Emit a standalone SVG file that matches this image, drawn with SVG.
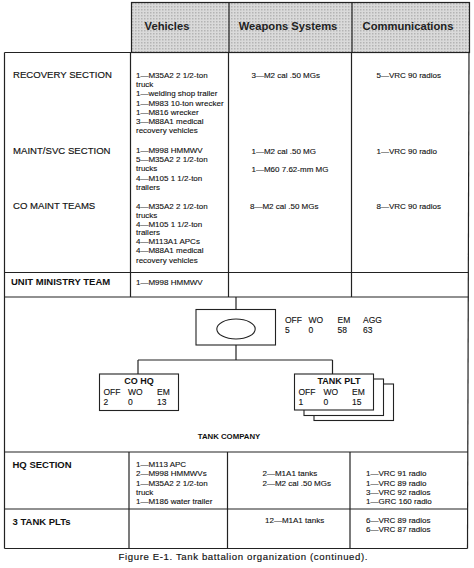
<svg xmlns="http://www.w3.org/2000/svg" width="474" height="568" viewBox="0 0 474 568">
<defs>
<pattern id="dots" width="3" height="3" patternUnits="userSpaceOnUse">
<rect width="3" height="3" fill="#dadada"/>
<rect x="0" y="0" width="1.5" height="1.5" fill="#b4b4b4"/>
</pattern>
<style>
text{font-family:"Liberation Sans",Arial,sans-serif;fill:#111}
.hd{font-size:11.2px;font-weight:bold;text-anchor:middle;fill:#222}
.sec{font-size:9.6px;stroke:#111;stroke-width:0.15}
.secb{font-size:9.5px;font-weight:bold}
.it{font-size:8px;stroke:#111;stroke-width:0.12}
.st{font-size:8.5px;stroke:#111;stroke-width:0.12}
.nb{font-size:9px;font-weight:bold;text-anchor:middle}
.ln{stroke:#222;stroke-width:1.2;fill:none}
.bx{stroke:#222;stroke-width:1.1;fill:#fff}
</style>
</defs>
<rect width="474" height="568" fill="#fff"/>

<g id="header">
<rect x="131.5" y="2.5" width="338" height="50" fill="url(#dots)" stroke="#222" stroke-width="1.2"/>
<line class="ln" x1="229" y1="2.5" x2="229" y2="52.5"/>
<line class="ln" x1="352" y1="2.5" x2="352" y2="52.5"/>
<text class="hd" x="167" y="30">Vehicles</text>
<text class="hd" x="288" y="30">Weapons Systems</text>
<text class="hd" x="408" y="30">Communications</text>
</g>

<g id="table-lines">
<line class="ln" x1="4.5" y1="52.5" x2="469.5" y2="52.5"/>
<line class="ln" x1="4.5" y1="52.5" x2="4.5" y2="548.5"/>
<line class="ln" x1="469" y1="52.5" x2="467.5" y2="548.5"/>
<line class="ln" x1="130.5" y1="52.5" x2="130.5" y2="297"/>
<line class="ln" x1="228.5" y1="52.5" x2="228.5" y2="297"/>
<line class="ln" x1="351.5" y1="52.5" x2="351.5" y2="297"/>
<line class="ln" x1="4.5" y1="272.5" x2="468.5" y2="272.5"/>
<line class="ln" x1="4.5" y1="297" x2="468.5" y2="297"/>
<line class="ln" x1="4.5" y1="452" x2="468" y2="452"/>
<line class="ln" x1="4.5" y1="509" x2="468" y2="509"/>
<line class="ln" x1="4.5" y1="548.5" x2="467.5" y2="548.5"/>
<line class="ln" x1="129" y1="452" x2="129" y2="548.5"/>
<line class="ln" x1="227.5" y1="452" x2="227.5" y2="548.5"/>
<line class="ln" x1="350" y1="452" x2="350" y2="548.5"/>
</g>

<g id="recovery-section">
<text class="sec" x="13" y="77.5">RECOVERY SECTION</text>
<text class="it" x="136" y="78">1—M35A2 2 1/2-ton</text>
<text class="it" x="136" y="87.2">truck</text>
<text class="it" x="136" y="96.4">1—welding shop trailer</text>
<text class="it" x="136" y="105.6">1—M983 10-ton wrecker</text>
<text class="it" x="136" y="114.8">1—M816 wrecker</text>
<text class="it" x="136" y="124">3—M88A1 medical</text>
<text class="it" x="136" y="133.2">recovery vehicles</text>
<text class="it" x="251.5" y="78">3—M2 cal .50 MGs</text>
<text class="it" x="376.5" y="78">5—VRC 90 radios</text>
</g>

<g id="maint-svc-section">
<text class="sec" x="13" y="153.5">MAINT/SVC SECTION</text>
<text class="it" x="136" y="152.7">1—M998 HMMWV</text>
<text class="it" x="136" y="162">5—M35A2 2 1/2-ton</text>
<text class="it" x="136" y="171.2">trucks</text>
<text class="it" x="136" y="180.5">4—M105 1 1/2-ton</text>
<text class="it" x="136" y="189.8">trailers</text>
<text class="it" x="251.5" y="153.8">1—M2 cal .50 MG</text>
<text class="it" x="251.5" y="171.5">1—M60 7.62-mm MG</text>
<text class="it" x="376.5" y="153.5">1—VRC 90 radio</text>
</g>

<g id="co-maint-teams">
<text class="sec" x="13" y="208.5">CO MAINT TEAMS</text>
<text class="it" x="136" y="209">4—M35A2 2 1/2-ton</text>
<text class="it" x="136" y="217.8">trucks</text>
<text class="it" x="136" y="226.8">4—M105 1 1/2-ton</text>
<text class="it" x="136" y="235.4">trailers</text>
<text class="it" x="136" y="244.3">4—M113A1 APCs</text>
<text class="it" x="136" y="253.3">4—M88A1 medical</text>
<text class="it" x="136" y="262.8">recovery vehicles</text>
<text class="it" x="250" y="208.5">8—M2 cal .50 MGs</text>
<text class="it" x="376.5" y="208.5">8—VRC 90 radios</text>
</g>

<g id="unit-ministry-team">
<text class="secb" x="11" y="284.8">UNIT MINISTRY TEAM</text>
<text class="it" x="136" y="284.8">1—M998 HMMWV</text>
</g>

<g id="connectors">
<line class="ln" x1="236" y1="297" x2="236" y2="309.5"/>
<line class="ln" x1="236" y1="345" x2="236" y2="360"/>
<line class="ln" x1="138" y1="360" x2="332.5" y2="360"/>
<line class="ln" x1="138" y1="360" x2="138" y2="374"/>
<line class="ln" x1="332.5" y1="360" x2="332.5" y2="374"/>
</g>

<g id="tank-company">
<rect class="bx" x="196" y="309.5" width="79.5" height="35.5"/>
<ellipse cx="236" cy="329" rx="19.2" ry="10" fill="none" stroke="#222" stroke-width="1.1"/>
<text class="st" x="285" y="322.5">OFF</text>
<text class="st" x="308.5" y="322.5">WO</text>
<text class="st" x="337.5" y="322.5">EM</text>
<text class="st" x="363" y="322.5">AGG</text>
<text class="st" x="285" y="332.5">5</text>
<text class="st" x="308.5" y="332.5">0</text>
<text class="st" x="337.5" y="332.5">58</text>
<text class="st" x="363" y="332.5">63</text>
<text x="229" y="439" style="font-size:7.8px;font-weight:bold;text-anchor:middle">TANK COMPANY</text>
</g>

<g id="co-hq">
<rect class="bx" x="99.5" y="374" width="79" height="36.5"/>
<text class="nb" x="139" y="383.5">CO HQ</text>
<text class="st" x="103.5" y="395">OFF</text>
<text class="st" x="128" y="395">WO</text>
<text class="st" x="157" y="395">EM</text>
<text class="st" x="103.5" y="404.5">2</text>
<text class="st" x="128" y="404.5">0</text>
<text class="st" x="157" y="404.5">13</text>
</g>

<g id="tank-plt">
<rect class="bx" x="314" y="384" width="79.5" height="36.5"/>
<rect class="bx" x="304" y="379" width="79.5" height="36.5"/>
<rect class="bx" x="294.5" y="374" width="79" height="36"/>
<text class="nb" x="339" y="383.5">TANK PLT</text>
<text class="st" x="298.5" y="395">OFF</text>
<text class="st" x="323.5" y="395">WO</text>
<text class="st" x="352" y="395">EM</text>
<text class="st" x="298.5" y="404.5">1</text>
<text class="st" x="323.5" y="404.5">0</text>
<text class="st" x="352" y="404.5">15</text>
</g>

<g id="hq-section">
<text class="secb" x="12.5" y="467.5">HQ SECTION</text>
<text class="it" x="136" y="467.3">1—M113 APC</text>
<text class="it" x="136" y="476.3">2—M998 HMMWVs</text>
<text class="it" x="136" y="485.7">1—M35A2 2 1/2-ton</text>
<text class="it" x="136" y="494.7">truck</text>
<text class="it" x="136" y="503.7">1—M186 water trailer</text>
<text class="it" x="262.5" y="476.3">2—M1A1 tanks</text>
<text class="it" x="262.5" y="485.7">2—M2 cal .50 MGs</text>
<text class="it" x="366" y="476.3">1—VRC 91 radio</text>
<text class="it" x="366" y="485.7">1—VRC 89 radio</text>
<text class="it" x="366" y="495">3—VRC 92 radios</text>
<text class="it" x="366" y="503.7">1—GRC 160 radio</text>
</g>

<g id="tank-plts">
<text class="secb" x="12.5" y="525">3 TANK PLTs</text>
<text class="it" x="265" y="523">12—M1A1 tanks</text>
<text class="it" x="366" y="523">6—VRC 89 radios</text>
<text class="it" x="366" y="532.3">6—VRC 87 radios</text>
</g>

<text x="118.5" y="560" style="font-size:9.6px;stroke:#111;stroke-width:0.15" textLength="249">Figure E-1. Tank battalion organization (continued).</text>
</svg>
